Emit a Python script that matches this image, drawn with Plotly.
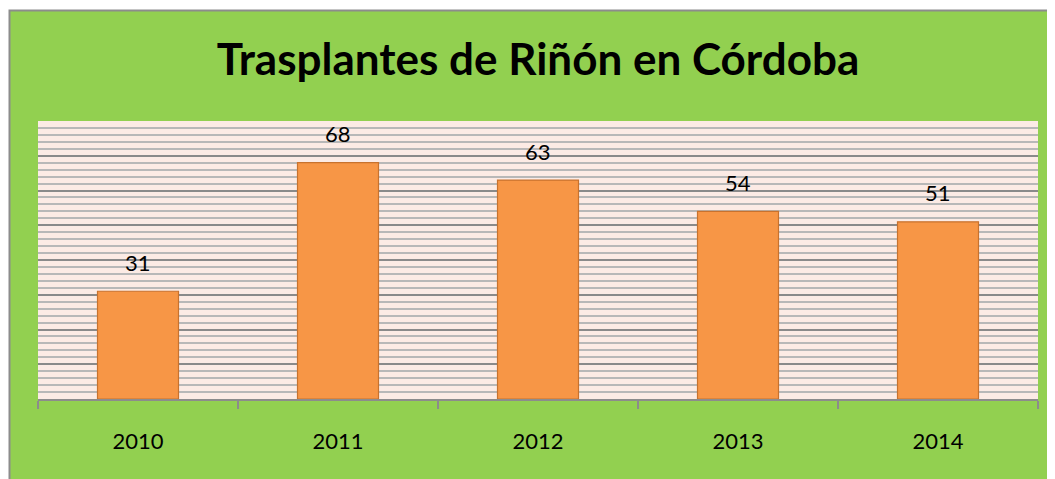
import plotly.graph_objects as go

years = ["2010", "2011", "2012", "2013", "2014"]
values = [31, 68, 63, 54, 51]
title_text = "Trasplantes de Riñón en Córdoba"

W, H = 1055, 479
# the page adds an 8px body margin; figure pixel coords = screen coords - 8
L, R, T, B = 30, 25, 113, 88
pw, ph = W - L - R, H - T - B

def px_x(p):
    return (p - L) / pw

def px_y(p):
    return (H - B - p) / ph

fig = go.Figure()
fig.add_trace(go.Bar(
    x=years, y=values,
    marker=dict(color="#F79646", line=dict(color="#C8722E", width=1.2)),
    width=0.405,
    hoverinfo="skip",
))

# category axis with numeric-looking names: annotations use category index
for i, v in enumerate(values):
    fig.add_annotation(x=i, y=v, text=str(v), showarrow=False, yshift=29,
                       font=dict(family="Lato", size=22, color="#000000"))

shapes = [
    dict(type="rect", xref="paper", yref="paper", x0=px_x(1.5), x1=px_x(1080),
         y0=px_y(520), y1=px_y(2.5), fillcolor="#92D050",
         line=dict(color="#8C8C8C", width=2), layer="below"),
    dict(type="rect", xref="paper", yref="paper", x0=0, x1=1, y0=0, y1=1,
         fillcolor="#FCEBE5", line=dict(width=0), layer="below"),
]

fig.update_layout(
    width=W, height=H,
    margin=dict(l=L, r=R, t=T, b=B),
    paper_bgcolor="#FFFFFF",
    plot_bgcolor="rgba(0,0,0,0)",
    showlegend=False,
    shapes=shapes,
    title=dict(text="<b>" + title_text + "</b>", x=0.5, xref="paper", xanchor="center",
               y=1 - 52 / H, yref="container", yanchor="middle",
               font=dict(family="Lato", size=44, color="#000000")),
    xaxis=dict(type="category", tickson="boundaries", ticks="outside", ticklen=8,
               tickcolor="#8C8C8C", tickwidth=1.5, showline=True, linecolor="#8C8C8C",
               linewidth=1.5, showgrid=False, range=[-0.5, 4.5], fixedrange=True,
               ticklabelstandoff=22,
               tickfont=dict(family="Lato", size=22, color="#000000")),
    yaxis=dict(range=[0, 80], dtick=10, showticklabels=False, showline=False,
               zeroline=False, showgrid=True, gridcolor="#8A8A8A", gridwidth=2,
               minor=dict(dtick=2, showgrid=True, gridcolor="#B8B8B8", gridwidth=2)),
)

fig.write_html("out.html")
